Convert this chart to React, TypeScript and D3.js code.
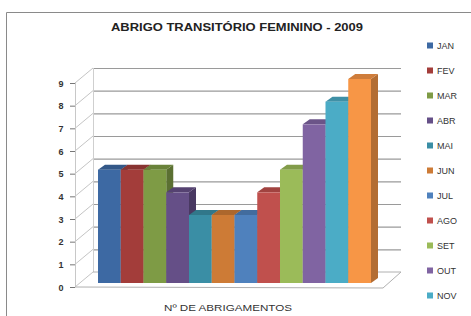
import * as d3 from 'd3';
import { useEffect, useRef } from 'react';

const months = ['JAN', 'FEV', 'MAR', 'ABR', 'MAI', 'JUN', 'JUL', 'AGO', 'SET', 'OUT', 'NOV', 'DEZ'];
const values = [5, 5, 5, 4, 3, 3, 3, 4, 5, 7, 8, 9];
const colors = ['#3d69a3', '#a33d3a', '#7e9b45', '#654f87', '#3a8ea5', '#cd7b36',
    '#4f81bd', '#c0504d', '#9bbb59', '#8064a2', '#4bacc6', '#f79646'];
const yTicks = [0, 1, 2, 3, 4, 5, 6, 7, 8, 9];

const App = () => {
    const ref = useRef<SVGSVGElement>(null);

    useEffect(() => {
        const svg: any = d3.select(ref.current);
        svg.selectAll('*').remove();

        // wall depth (axis plane -> back wall)
        const wdx = 18, wdy = -15;
        // bar depth
        const bdx = 7, bdy = -5;

        const y: any = d3.scaleLinear().domain([0, 9]).range([287, 83]);
        const x: any = d3.scaleBand().domain(months).range([98, 371]).padding(0);
        const barBase = 283;
        const yb = (v: number) => barBase - (y(0) - y(v));
        const axisX = 75, floorRight = 383;

        // frame
        svg.append('path')
            .attr('d', 'M6.5,330 L6.5,12.5 L480,12.5')
            .attr('fill', 'none').attr('stroke', '#8a8a8a').attr('stroke-width', 1);

        // title
        svg.append('text').attr('x', 237).attr('y', 31)
            .attr('text-anchor', 'middle')
            .attr('textLength', 252).attr('lengthAdjust', 'spacingAndGlyphs')
            .style('font-family', 'Liberation Sans, Arial, sans-serif')
            .style('font-size', '11px').style('font-weight', 700).style('fill', '#222')
            .text('ABRIGO TRANSITÓRIO FEMININO  - 2009');

        // back wall gridlines
        svg.selectAll('.grid').data(yTicks.slice(1)).enter().append('line')
            .attr('x1', axisX + wdx).attr('x2', floorRight + wdx)
            .attr('y1', (d: any) => y(d) + wdy + 0.5).attr('y2', (d: any) => y(d) + wdy + 0.5)
            .attr('stroke', '#9a9a9a').attr('stroke-width', 1.2);

        // side wall diagonals
        svg.selectAll('.diag').data(yTicks).enter().append('line')
            .attr('x1', axisX).attr('x2', axisX + wdx)
            .attr('y1', (d: any) => y(d)).attr('y2', (d: any) => y(d) + wdy)
            .attr('stroke', '#b5b5b5').attr('stroke-width', 0.8);

        // back and front verticals
        svg.append('line').attr('x1', axisX + wdx + 0.5).attr('x2', axisX + wdx + 0.5)
            .attr('y1', y(9) + wdy).attr('y2', y(0) + wdy)
            .attr('stroke', '#cfcfcf').attr('stroke-width', 1);
        svg.append('line').attr('x1', axisX + 0.5).attr('x2', axisX + 0.5)
            .attr('y1', y(9)).attr('y2', y(0))
            .attr('stroke', '#c8c8c8').attr('stroke-width', 1);

        // floor
        svg.append('path')
            .attr('d', `M${axisX},${y(0)} L${floorRight},${y(0) + 1} L${floorRight + wdx},${y(0) + wdy} L${axisX + wdx},${y(0) + wdy}`)
            .attr('fill', 'none').attr('stroke', '#b0b0b0').attr('stroke-width', 1);

        // ticks and labels
        svg.selectAll('.tick').data(yTicks).enter().append('line')
            .attr('x1', axisX - 5).attr('x2', axisX)
            .attr('y1', (d: any) => y(d) + 0.5).attr('y2', (d: any) => y(d) + 0.5)
            .attr('stroke', '#777');
        svg.selectAll('.tl').data(yTicks).enter().append('text')
            .attr('x', 61).attr('y', (d: any) => y(d) + 3.5)
            .attr('text-anchor', 'middle')
            .style('font-family', 'Liberation Sans, Arial, sans-serif')
            .style('font-size', '9px').style('font-weight', 700).style('fill', '#333')
            .text((d: any) => d);

        // bars
        const bars = svg.selectAll('.bar').data(months).enter().append('g');
        bars.append('path')
            .attr('d', (d: any, i: number) => {
                const x0 = x(d) + x.bandwidth(), t = yb(values[i]);
                return `M${x0},${barBase} L${x0 + bdx},${barBase + bdy} L${x0 + bdx},${t + bdy} L${x0},${t}Z`;
            })
            .attr('fill', (d: any, i: number) => d3.color(colors[i])!.darker(0.9).toString());
        bars.append('path')
            .attr('d', (d: any, i: number) => {
                const x0 = x(d), x1 = x0 + x.bandwidth(), t = yb(values[i]);
                return `M${x0},${t} L${x0 + bdx},${t + bdy} L${x1 + bdx},${t + bdy} L${x1},${t}Z`;
            })
            .attr('fill', (d: any, i: number) => d3.color(colors[i])!.darker(0.5).toString());
        bars.append('rect')
            .attr('x', (d: any) => x(d)).attr('width', x.bandwidth())
            .attr('y', (d: any, i: number) => yb(values[i]))
            .attr('height', (d: any, i: number) => barBase - yb(values[i]))
            .attr('fill', (d: any, i: number) => colors[i]);

        // x axis title
        svg.append('text').attr('x', 228).attr('y', 311)
            .attr('text-anchor', 'middle')
            .attr('textLength', 128).attr('lengthAdjust', 'spacingAndGlyphs')
            .style('font-family', 'Liberation Sans, Arial, sans-serif')
            .style('font-size', '9.5px').style('fill', '#333')
            .text('Nº DE ABRIGAMENTOS');

        // legend (the last entry falls below the visible area, as in the original)
        const legendItems = months.filter((_, i) => 46 + i * 25 < 310);
        const lg = svg.selectAll('.lg').data(legendItems).enter().append('g')
            .attr('transform', (d: any, i: number) => `translate(427,${46 + i * 25})`);
        lg.append('rect').attr('x', 0).attr('y', -3.5).attr('width', 6).attr('height', 6)
            .attr('fill', (d: any, i: number) => colors[i]);
        lg.append('text').attr('x', 10).attr('y', 3)
            .style('font-family', 'Liberation Sans, Arial, sans-serif')
            .style('font-size', '9px').style('fill', '#333')
            .text((d: any) => d);
    }, []);

    return (
        <svg ref={ref} width={471} height={316}
            style={{ position: 'absolute', left: 0, top: 0, background: '#fff' }} />
    );
};

export default App;
